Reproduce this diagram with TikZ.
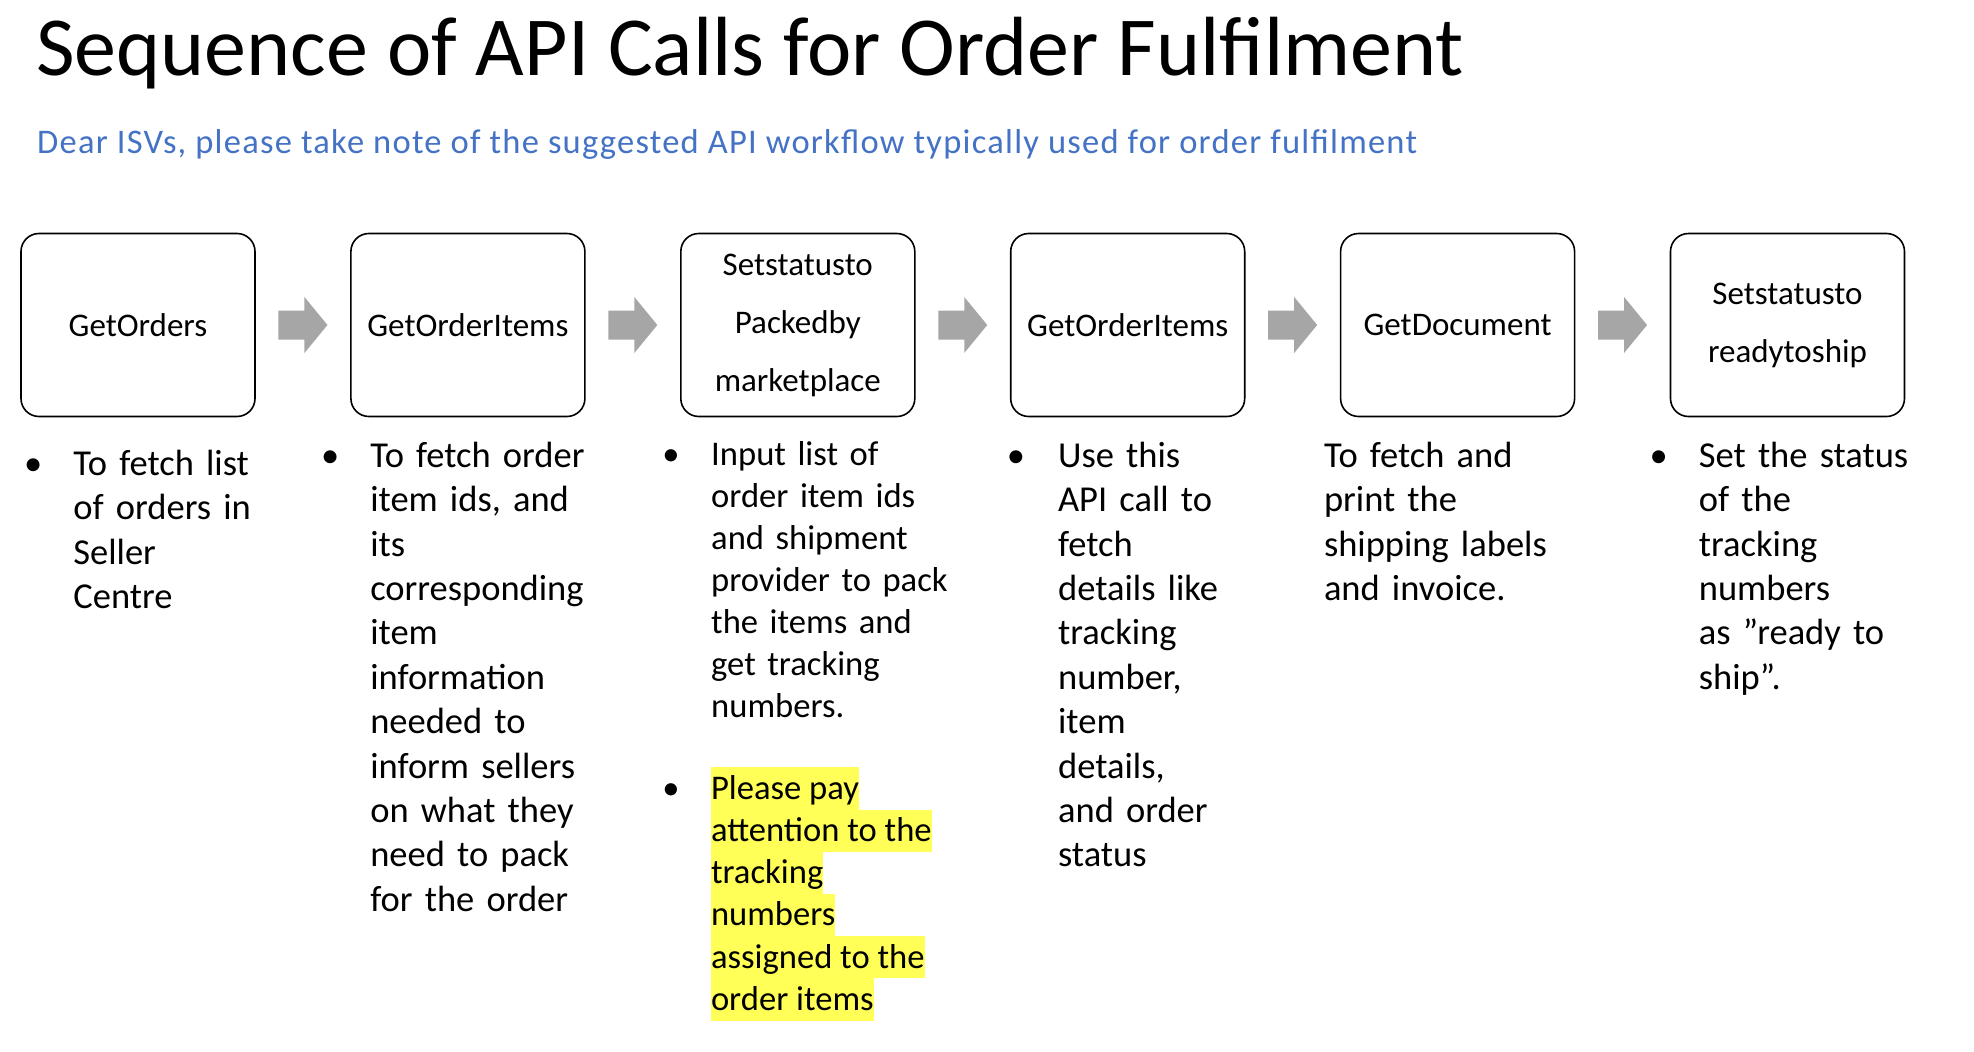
\documentclass[tikz,border=0pt]{standalone}
\usepackage{fontspec}
\setmainfont{Carlito}
\usetikzlibrary{positioning, calc}
\definecolor{subblue}{RGB}{68,114,196}
\definecolor{arrgray}{RGB}{166,166,166}
\definecolor{hlyellow}{RGB}{255,255,87}
\newcommand{\titlefont}{\fontsize{84}{100}\selectfont}
\newcommand{\subfont}{\fontsize{34.5}{40}\selectfont\addfontfeature{LetterSpace=3.6}}
\newcommand{\boxfont}{\fontsize{33}{58}\selectfont}
\newcommand{\notefont}{\fontsize{36.5}{44.4}\selectfont}
\newcommand{\packfont}{\fontsize{34.6}{42}\selectfont}
% grey block arrow half way between two boxes
\newcommand{\flowarrow}[2]{%
  \fill[arrgray] ($(#1.east)!0.5!(#2.west)$) ++(-24.5,-14.5) -- ++(26,0) -- ++(0,-13.5)
    -- ++(23,28) -- ++(-23,28) -- ++(0,-13.5) -- ++(-26,0) -- cycle;}

\begin{document}
\begin{tikzpicture}[
  x=1pt, y=-1pt,
  node distance=94.3pt,
  apibox/.style={draw, line width=1.6pt, rounded corners=18pt, minimum width=234pt, minimum height=183pt, align=center, font=\boxfont},
  note/.style={anchor=base west, inner sep=0pt, text width=270pt, align=left, font=\notefont},
  packnote/.style={note, font=\packfont},
  bullet/.style={anchor=base, inner sep=0pt, font=\notefont},
  hlline/.style={fill=hlyellow, inner sep=0pt, outer sep=0pt, text height=32pt, text depth=10.2pt, font=\packfont}
]
\useasboundingbox (0,0) rectangle (1974,1052);

% Heading
\node[anchor=base west, inner sep=0pt, font=\titlefont] (title) at (36,75) {Sequence of API Calls for Order Fulfilment};
\node[anchor=base west, inner sep=0pt, font=\subfont, text=subblue] (subtitle) at (37,153) {Dear ISVs, please take note of the suggested API workflow typically used for order fulfilment};

% API calls row
\node[apibox] (getorders) at (138,325) {GetOrders};
\node[apibox, right=of getorders] (getitems) {GetOrderItems};
\node[apibox, right=of getitems] (setpacked) {Setstatusto\\Packedby\\marketplace};
\node[apibox, right=of setpacked] (getitemsb) {GetOrderItems};
\node[apibox, right=of getitemsb] (getdoc) {GetDocument};
\node[apibox, right=of getdoc] (setready) {Setstatusto\\readytoship};

\flowarrow{getorders}{getitems}
\flowarrow{getitems}{setpacked}
\flowarrow{setpacked}{getitemsb}
\flowarrow{getitemsb}{getdoc}
\flowarrow{getdoc}{setready}

% Notes under each call
\node[bullet] (bul1) at ($(getorders.south west)+(13,58)$) {•};
\node[note] (ordersnote) at ($(getorders.south west)+(53,58)$) {To fetch list\\of orders in\\Seller\\Centre};

\node[bullet] (bul2) at ($(getitems.south west)+(-20,50)$) {•};
\node[note] (itemsnote) at ($(getitems.south west)+(20,50)$) {To fetch order\\item ids, and\\its\\corresponding\\item\\information\\needed to\\inform sellers\\on what they\\need to pack\\for the order};

\node[bullet, font=\packfont] (bul3) at ($(setpacked.south west)+(-9,48)$) {•};
\node[packnote] (packnote) at ($(setpacked.south west)+(31,48)$) {Input list of\\order item ids\\and shipment\\provider to pack\\the items and\\get tracking\\numbers.};

% highlighted warning
\node[bullet, font=\packfont] (bul3b) at ($(setpacked.south west)+(-9,382)$) {•};
\node[hlline, anchor=base west] (hl1) at ($(setpacked.south west)+(31,382)$) {Please pay\hspace{10pt}};
\node[hlline, below=0pt of hl1.south west, anchor=north west] (hl2) {attention to the\hspace{10pt}};
\node[hlline, below=0pt of hl2.south west, anchor=north west] (hl3) {tracking\hspace{10pt}};
\node[hlline, below=0pt of hl3.south west, anchor=north west] (hl4) {numbers\hspace{10pt}};
\node[hlline, below=0pt of hl4.south west, anchor=north west] (hl5) {assigned to the\hspace{10pt}};
\node[hlline, below=0pt of hl5.south west, anchor=north west] (hl6) {order items\hspace{2pt}};

\node[bullet] (bul4) at ($(getitemsb.south west)+(6,50)$) {•};
\node[note] (itemsbnote) at ($(getitemsb.south west)+(48,50)$) {Use this\\API call to\\fetch\\details like\\tracking\\number,\\item\\details,\\and order\\status};

\node[note] (docnote) at ($(getdoc.south west)+(-16,50)$) {To fetch and\\print the\\shipping labels\\and invoice.};

\node[bullet] (bul6) at ($(setready.south west)+(-11,50)$) {•};
\node[note] (readynote) at ($(setready.south west)+(29,50)$) {Set the status\\of the\\tracking\\numbers\\as ”ready to\\ship”.};

\end{tikzpicture}
\end{document}
